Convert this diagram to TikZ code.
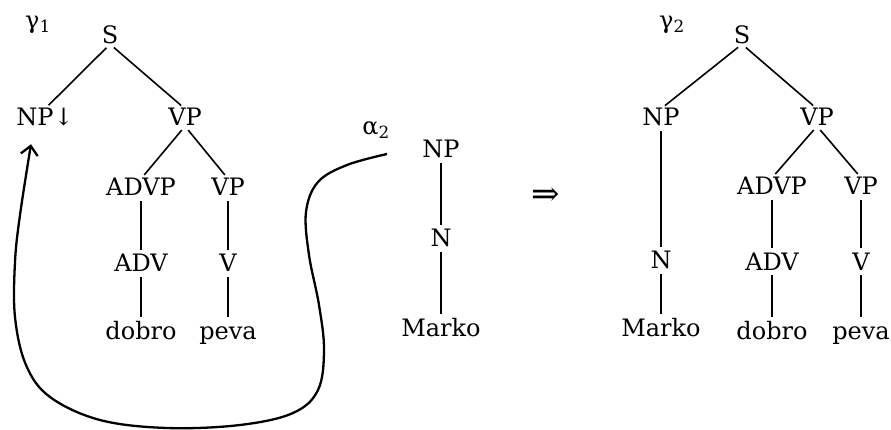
\documentclass[tikz,border=0pt]{standalone}
\usepackage{fontspec}
\setmainfont{DejaVu Serif}
\usetikzlibrary{arrows.meta}

\tikzset{
  lbl/.style={anchor=base,inner sep=0pt,text height=17pt,text depth=0pt,font=\fontsize{24}{28}\selectfont},
  tag/.style={anchor=base,inner sep=0pt,font=\fontsize{24}{28}\selectfont},
  branch/.style={line width=1.6pt,shorten <=5pt,shorten >=5pt},
}

\begin{document}
\begin{tikzpicture}[x=1pt,y=-1pt]
    \useasboundingbox (0,0) rectangle (891,430);

    % gamma 1
    \node[tag] (g1) at (38,29) {γ\textsubscript{1}};
    \node[lbl] (g1s) at (110,44) {S};
    \node[lbl] (g1np) at (45,126) {NP↓};
    \node[lbl] (g1vp) at (185,126) {VP};
    \node[lbl] (g1advp) at (141,196) {ADVP};
    \node[lbl] (g1vpb) at (228,196) {VP};
    \node[lbl] (g1adv) at (141,272) {ADV};
    \node[lbl] (g1v) at (228,272) {V};
    \node[lbl] (g1dobro) at (141,339) {dobro};
    \node[lbl] (g1peva) at (228,339) {peva};

    \draw[branch] (g1s.south) -- (g1np.north) ;
    \draw[branch] (g1s.south) -- (g1vp.north) ;
    \draw[branch] (g1vp.south) -- (g1advp.north) ;
    \draw[branch] (g1vp.south) -- (g1vpb.north) ;
    \draw[branch] (g1advp.south) -- (g1adv.north) ;
    \draw[branch] (g1vpb.south) -- (g1v.north) ;
    \draw[branch] (g1adv.south) -- (g1dobro.north) ;
    \draw[branch] (g1v.south) -- (g1peva.north) ;

    % alpha 2
    \node[tag] (a2) at (376,135) {α\textsubscript{2}};
    \node[lbl] (a2np) at (441,158) {NP};
    \node[lbl] (a2n) at (441,247) {N};
    \node[lbl] (a2marko) at (441,336) {Marko};

    \draw[branch] (a2np.south) -- (a2n.north) ;
    \draw[branch] (a2n.south) -- (a2marko.north) ;

    % substitution of alpha 2 at NP
    \coordinate (subst) at (387,154);
    \coordinate (tip) at ([xshift=-14pt,yshift=-18pt]g1np.south);
    \draw[line width=2.3pt,-{Straight Barb[length=9pt,width=17pt]}]
      plot[smooth,tension=0.6] coordinates {(subst) (347,165) (318,182) (306,212) (309,255) (319,305) (324,350) (318,390) (293,413) (240,425) (167,428) (100,420) (50,397) (26,365) (15,317) (15,262) (20,215) (tip)};

    \node (arr) at (546,197) {\fontsize{34}{40}\selectfont ⇒};

    % gamma 2
    \node[tag] (g2) at (672,29) {γ\textsubscript{2}};
    \node[lbl] (g2s) at (742,44) {S};
    \node[lbl] (g2np) at (661,126) {NP};
    \node[lbl] (g2vp) at (817,126) {VP};
    \node[lbl] (g2n) at (661,269) {N};
    \node[lbl] (g2marko) at (661,336) {Marko};
    \node[lbl] (g2advp) at (772,195) {ADVP};
    \node[lbl] (g2vpb) at (861,195) {VP};
    \node[lbl] (g2adv) at (772,270) {ADV};
    \node[lbl] (g2v) at (861,270) {V};
    \node[lbl] (g2dobro) at (772,339) {dobro};
    \node[lbl] (g2peva) at (861,339) {peva};

    \draw[branch] (g2s.south) -- (g2np.north) ;
    \draw[branch] (g2s.south) -- (g2vp.north) ;
    \draw[branch] (g2np.south) -- (g2n.north) ;
    \draw[branch] (g2n.south) -- (g2marko.north) ;
    \draw[branch] (g2vp.south) -- (g2advp.north) ;
    \draw[branch] (g2vp.south) -- (g2vpb.north) ;
    \draw[branch] (g2advp.south) -- (g2adv.north) ;
    \draw[branch] (g2vpb.south) -- (g2v.north) ;
    \draw[branch] (g2adv.south) -- (g2dobro.north) ;
    \draw[branch] (g2v.south) -- (g2peva.north) ;
\end{tikzpicture}
\end{document}
